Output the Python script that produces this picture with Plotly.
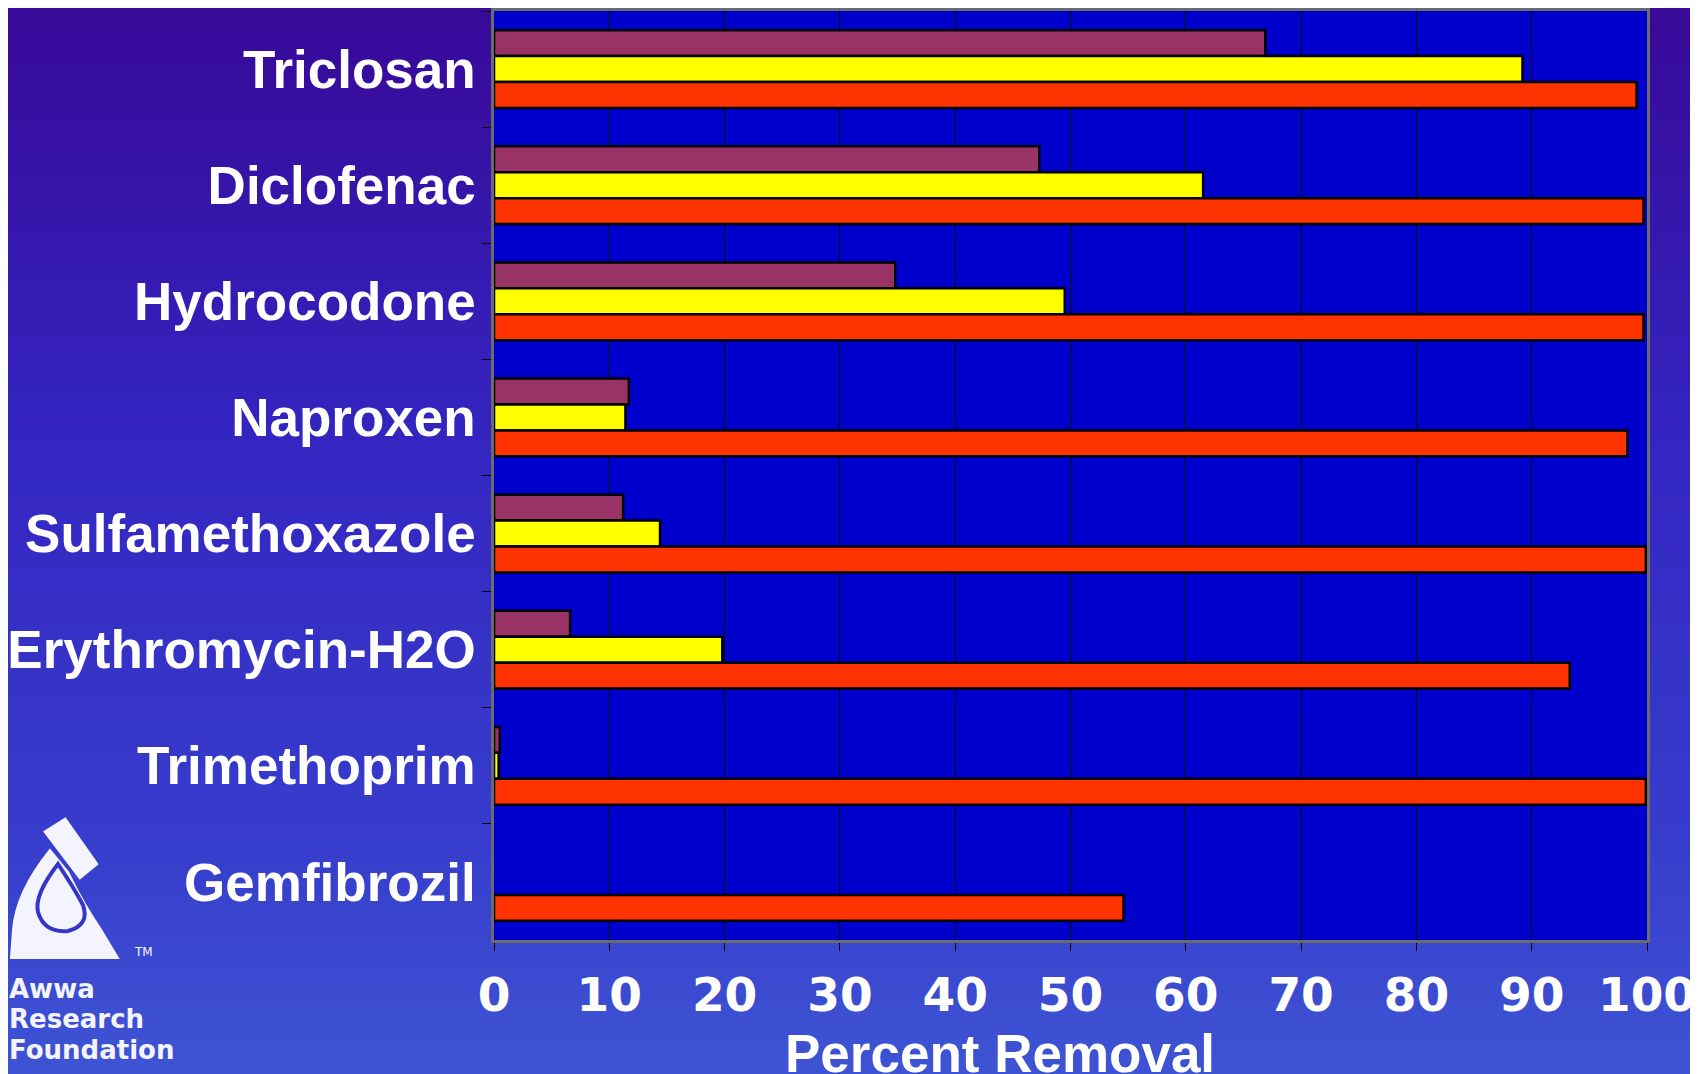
import plotly.graph_objects as go

# ---------------- data ----------------
compounds = ["Triclosan", "Diclofenac", "Hydrocodone", "Naproxen",
             "Sulfamethoxazole", "Erythromycin-H2O", "Trimethoprim", "Gemfibrozil"]
series_a = [66.9, 47.3, 34.8, 11.7, 11.2, 6.6, 0.5, None]      # maroon
series_b = [89.2, 61.5, 49.5, 11.4, 14.4, 19.8, 0.4, None]     # yellow
series_c = [99.1, 99.7, 99.7, 98.3, 99.9, 93.3, 99.9, 54.6]    # red
x_ticks = [0, 10, 20, 30, 40, 50, 60, 70, 80, 90, 100]
x_title = "Percent Removal"

# ---------------- layout constants ----------------
W, H = 1698, 1074
OFF = 8                        # page offset of the figure (body margin)
PL, PT, PR, PB = 494, 11, 1647, 940   # plot area in page pixels
PW, PH = PR - PL, PB - PT
ML, MT = PL - OFF, PT - OFF
MR, MB = W - ML - PW, H - MT - PH


def px(x, y):
    """page pixel -> paper coordinates (for decorative elements)"""
    return (x - PL) / PW, (PB - y) / PH


colors = ["#993366", "#FFFF00", "#FF3300"]
fig = go.Figure()
for vals, col in zip([series_a, series_b, series_c], colors):
    fig.add_trace(go.Bar(
        y=compounds, x=vals, orientation="h",
        marker=dict(color=col, line=dict(color="#000000", width=2.5)),
        showlegend=False, hoverinfo="x+y",
    ))

# ---------------- background gradient ----------------
shapes = []
stops = [(0.0, (56, 8, 150)), (0.4, (52, 36, 192)), (0.8, (55, 62, 205)), (1.0, (62, 84, 212))]


def lerp_color(t):
    for (t0, c0), (t1, c1) in zip(stops[:-1], stops[1:]):
        if t0 <= t <= t1:
            f = (t - t0) / (t1 - t0) if t1 > t0 else 0
            return "rgb(%d,%d,%d)" % tuple(round(a + (b - a) * f) for a, b in zip(c0, c1))
    return "rgb(%d,%d,%d)" % stops[-1][1]


N = 60
for i in range(N):
    y0p, y1p = -OFF + (H + OFF) * i / N, -OFF + (H + OFF) * (i + 1) / N + 1
    x0, ya = px(-OFF, y0p)
    x1, yb = px(W + OFF, y1p)
    shapes.append(dict(type="rect", xref="paper", yref="paper", x0=x0, x1=x1,
                       y0=yb, y1=ya, layer="below", line=dict(width=0),
                       fillcolor=lerp_color((i + 0.5) / N)))

# plot area background
shapes.append(dict(type="rect", xref="paper", yref="paper", x0=0, x1=1, y0=0, y1=1,
                   layer="below", line=dict(width=0), fillcolor="#0000CC"))

# ---------------- logo (decorative) ----------------
def pth(points, close=True):
    s = ""
    for cmd, pts in points:
        coords = " ".join("%.5f,%.5f" % px(*p) for p in pts)
        s += cmd + " " + coords + " "
    return s + ("Z" if close else "")


white = "#F4F4FF"
# tube
shapes.append(dict(type="path", xref="paper", yref="paper", layer="above",
                   path=pth([("M", [(46, 832)]), ("L", [(65, 820)]), ("L", [(96, 864)]),
                             ("L", [(80, 877)])]),
                   fillcolor=white, line=dict(color=white, width=4)))
# body + base
shapes.append(dict(type="path", xref="paper", yref="paper", layer="above",
                   path=pth([("M", [(50, 850)]), ("Q", [(16, 892), (13, 930)]),
                             ("L", [(11, 958)]), ("L", [(118, 958)]), ("L", [(100, 928)]),
                             ("Q", [(84, 905), (68, 872)])]),
                   fillcolor=white, line=dict(color=white, width=2)))
# inner drop
shapes.append(dict(type="path", xref="paper", yref="paper", layer="above",
                   path=pth([("M", [(58, 864)]), ("Q", [(34, 895), (38, 912)]),
                             ("Q", [(44, 933), (68, 931)]), ("Q", [(90, 925), (83, 905)]),
                             ("Q", [(74, 888), (58, 864)])]),
                   fillcolor=white, line=dict(color="#3535c8", width=4)))

annotations = []
lx, _ = px(7, 0)
for txt, yy in [("Awwa", 989), ("Research", 1019), ("Foundation", 1050)]:
    _, ly = px(0, yy)
    annotations.append(dict(text=txt, xref="paper", yref="paper", x=lx, y=ly,
                            xanchor="left", yanchor="middle", showarrow=False,
                            font=dict(family="DejaVu Sans", size=26, color=white, weight="bold")))
tx, ty = px(132, 952)
annotations.append(dict(text="TM", xref="paper", yref="paper", x=tx, y=ty,
                        xanchor="left", yanchor="middle", showarrow=False,
                        font=dict(family="DejaVu Sans", size=12, color=white)))

# x axis title as annotation (offset left as in reference)
ax, ay = px(1000, 1022)
annotations.append(dict(text=x_title, xref="paper", yref="paper", x=ax, y=ay,
                        xanchor="center", yanchor="top", showarrow=False,
                        font=dict(family="Liberation Sans", size=53, color="white", weight="bold")))

fig.update_layout(
    width=W, height=H,
    margin=dict(l=ML, r=MR, t=MT, b=MB, pad=0, autoexpand=False),
    paper_bgcolor="rgb(52,30,175)",
    plot_bgcolor="#0000CC",
    barmode="group", bargap=0.33, bargroupgap=0,
    shapes=shapes, annotations=annotations,
    font=dict(family="Liberation Sans", color="white"),
)
fig.update_xaxes(
    range=[0, 100], tickvals=x_ticks, ticktext=[str(v) for v in x_ticks],
    showgrid=True, gridcolor="#000000", gridwidth=1.2,
    ticks="outside", ticklen=8, tickcolor="#000000", tickwidth=1.2,
    showline=True, linecolor="#6b6b6b", linewidth=2.5, mirror=True,
    zeroline=False, ticklabelstandoff=4, automargin=False,
    tickfont=dict(family="DejaVu Sans", size=47, color="white", weight="bold"),
)
fig.update_yaxes(
    categoryorder="array", categoryarray=compounds, autorange="reversed",
    ticks="outside", ticklen=9, tickcolor="#000000", tickwidth=1.2, tickson="boundaries",
    showgrid=False, showline=True, linecolor="#6b6b6b", linewidth=2.5, mirror=True,
    ticklabelstandoff=5, automargin=False,
    tickfont=dict(family="Liberation Sans", size=53, color="white", weight="bold"),
)

fig.write_html("out.html")
